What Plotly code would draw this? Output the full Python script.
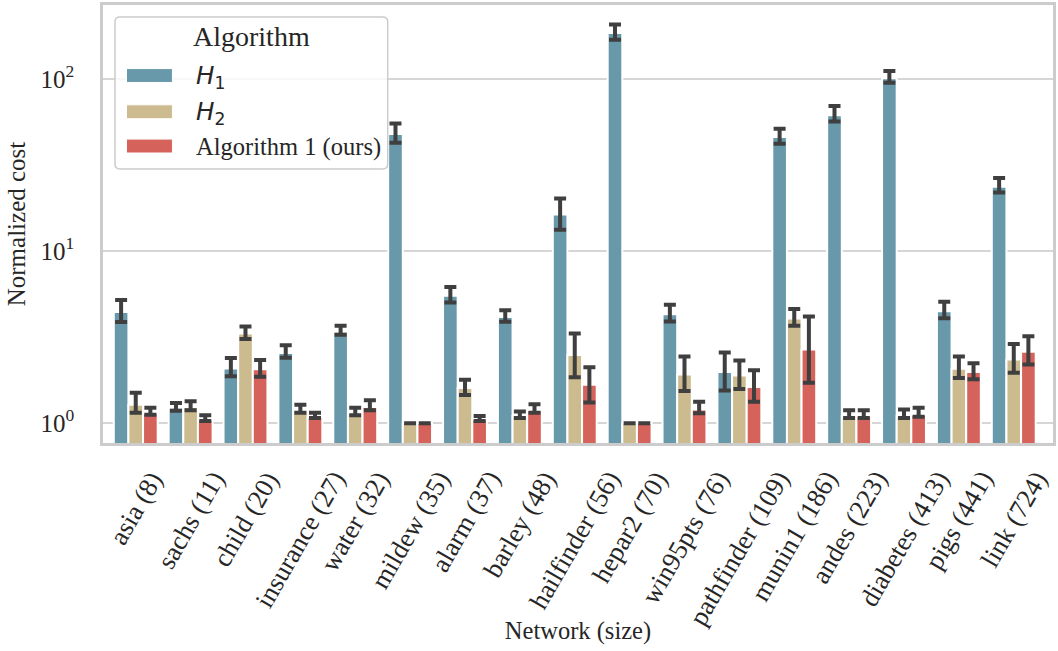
import plotly.graph_objects as go
import numpy as np

# Benchmark networks (number of nodes in parentheses)
networks = [
    "asia (8)", "sachs (11)", "child (20)", "insurance (27)", "water (32)",
    "mildew (35)", "alarm (37)", "barley (48)", "hailfinder (56)", "hepar2 (70)",
    "win95pts (76)", "pathfinder (109)", "munin1 (186)", "andes (223)",
    "diabetes (413)", "pigs (441)", "link (724)",
]

series_labels = [
    '<span style="font-family:DejaVu Sans"><i>H</i><sub>1</sub></span>',
    '<span style="font-family:DejaVu Sans"><i>H</i><sub>2</sub></span>',
    "Algorithm 1 (ours)",
]

# Mean normalized cost with confidence-interval bounds
h1_cost = [4.43, 1.23, 2.08, 2.56, 3.40, 47.9, 5.50, 4.14, 16.3, 185.0, 4.29, 1.98, 45.9, 61.5, 101.0, 4.47, 23.6]
h1_high = [5.20, 1.31, 2.39, 2.84, 3.68, 55.0, 6.19, 4.53, 20.2, 207.0, 4.88, 2.57, 51.3, 69.6, 111.0, 5.07, 26.6]
h1_low = [3.87, 1.18, 1.87, 2.40, 3.26, 42.6, 5.03, 3.88, 13.3, 169.0, 3.90, 1.55, 42.0, 56.5, 95.0, 4.07, 21.9]

h2_cost = [1.28, 1.24, 3.32, 1.19, 1.14, 1.00, 1.60, 1.10, 2.49, 1.00, 1.92, 1.89, 4.05, 1.10, 1.10, 2.07, 2.34]
h2_high = [1.50, 1.34, 3.64, 1.28, 1.23, 1.00, 1.79, 1.17, 3.32, 1.00, 2.44, 2.31, 4.61, 1.19, 1.20, 2.44, 2.88]
h2_low = [1.15, 1.19, 3.08, 1.15, 1.11, 1.00, 1.46, 1.07, 1.85, 1.00, 1.54, 1.58, 3.68, 1.07, 1.07, 1.83, 1.96]

alg_cost = [1.15, 1.05, 2.06, 1.09, 1.24, 1.00, 1.05, 1.19, 1.67, 1.00, 1.20, 1.62, 2.68, 1.10, 1.12, 1.98, 2.60]
alg_high = [1.23, 1.11, 2.33, 1.15, 1.36, 1.00, 1.10, 1.29, 2.11, 1.00, 1.33, 2.03, 4.16, 1.19, 1.23, 2.23, 3.20]
alg_low = [1.12, 1.03, 1.86, 1.07, 1.19, 1.00, 1.03, 1.15, 1.32, 1.00, 1.14, 1.33, 1.72, 1.07, 1.09, 1.80, 2.19]

colors = ["#6899ab", "#cbbb8e", "#d5625b"]
costs = [h1_cost, h2_cost, alg_cost]
highs = [h1_high, h2_high, alg_high]
lows = [h1_low, h2_low, alg_low]

SERIF = "Liberation Serif, Times New Roman, serif"
TEXT = "#262626"

fig = go.Figure()
for label, color, mean, hi, lo in zip(series_labels, colors, costs, highs, lows):
    fig.add_trace(go.Bar(
        x=networks, y=mean, name=label,
        marker=dict(color=color, line=dict(color="white", width=2)),
        error_y=dict(
            type="data", symmetric=False,
            array=[h - m for h, m in zip(hi, mean)],
            arrayminus=[m - l for m, l in zip(mean, lo)],
            color="#3f3f3f", thickness=4, width=6,
        ),
    ))

# plot-area geometry in pixels (used to place the hand-drawn legend)
L, R, T, B = 103, 4, 2, 208
W, H = 1058, 651
pw, ph = W - L - R, H - T - B


def xp(px):
    return (px - L) / pw


def yp(py):
    return (H - B - py) / ph


def rounded_box(x0, y0, x1, y1, r):
    rx, ry = r / pw, r / ph
    a0, a1, b0, b1 = xp(x0), xp(x1), yp(y1), yp(y0)
    return (f"M{a0+rx},{b0} L{a1-rx},{b0} Q{a1},{b0} {a1},{b0+ry} "
            f"L{a1},{b1-ry} Q{a1},{b1} {a1-rx},{b1} L{a0+rx},{b1} "
            f"Q{a0},{b1} {a0},{b1-ry} L{a0},{b0+ry} Q{a0},{b0} {a0+rx},{b0} Z")


shapes = [dict(type="path", xref="paper", yref="paper",
               path=rounded_box(115, 14, 388, 167, 5),
               fillcolor="rgba(255,255,255,0.8)", line=dict(color="#cccccc", width=1.5))]
annotations = [dict(text="Algorithm", xref="paper", yref="paper", x=xp(252), y=yp(34),
                    xanchor="center", yanchor="middle", showarrow=False,
                    font=dict(family=SERIF, size=28, color=TEXT))]
for i, (label, color) in enumerate(zip(series_labels, colors)):
    cy = [73, 109.5, 144][i]
    shapes.append(dict(type="rect", xref="paper", yref="paper",
                       x0=xp(126.5), x1=xp(172.5), y0=yp(cy + 7), y1=yp(cy - 7),
                       fillcolor=color, line=dict(color="white", width=1)))
    annotations.append(dict(text=label, xref="paper", yref="paper", x=xp(194), y=yp(cy + 1),
                            xanchor="left", yanchor="middle", showarrow=False,
                            font=dict(family=SERIF, size=24.5, color=TEXT)))

# rotated category labels centred under each group
for name in networks:
    annotations.append(dict(text=name, x=name, xref="x", y=0, yref="paper",
                            xanchor="center", yanchor="top", yshift=-23, textangle=-60,
                            showarrow=False, borderpad=0, borderwidth=0,
                            font=dict(family=SERIF, size=26.5, color=TEXT)))

fig.update_layout(
    width=W, height=H, margin=dict(l=L, r=R, t=T, b=B),
    paper_bgcolor="white", plot_bgcolor="white",
    barmode="group", bargap=0.2, bargroupgap=0, showlegend=False,
    font=dict(family=SERIF, size=24, color=TEXT),
    shapes=shapes, annotations=annotations,
)
fig.update_yaxes(
    type="log", range=[np.log10(0.767), np.log10(268.7)],
    tickvals=[1, 10, 100], ticktext=["10<sup>0</sup>", "10<sup>1</sup>", "10<sup>2</sup>"],
    showgrid=True, gridcolor="#d6d6d6", gridwidth=1.8, zeroline=False,
    showline=True, linecolor="#cccccc", linewidth=2.6, mirror=True,
    ticks="", ticklabelstandoff=21, tickfont=dict(family=SERIF, size=25, color=TEXT),
    title=dict(text="Normalized cost", standoff=8, font=dict(family=SERIF, size=25, color=TEXT)),
)
fig.update_xaxes(
    showticklabels=False, showgrid=False, zeroline=False,
    showline=True, linecolor="#cccccc", linewidth=2.6, mirror=True, ticks="",
    title=dict(text="Network (size)", standoff=178, font=dict(family=SERIF, size=24.5, color=TEXT)),
)

fig.write_html("out.html")
